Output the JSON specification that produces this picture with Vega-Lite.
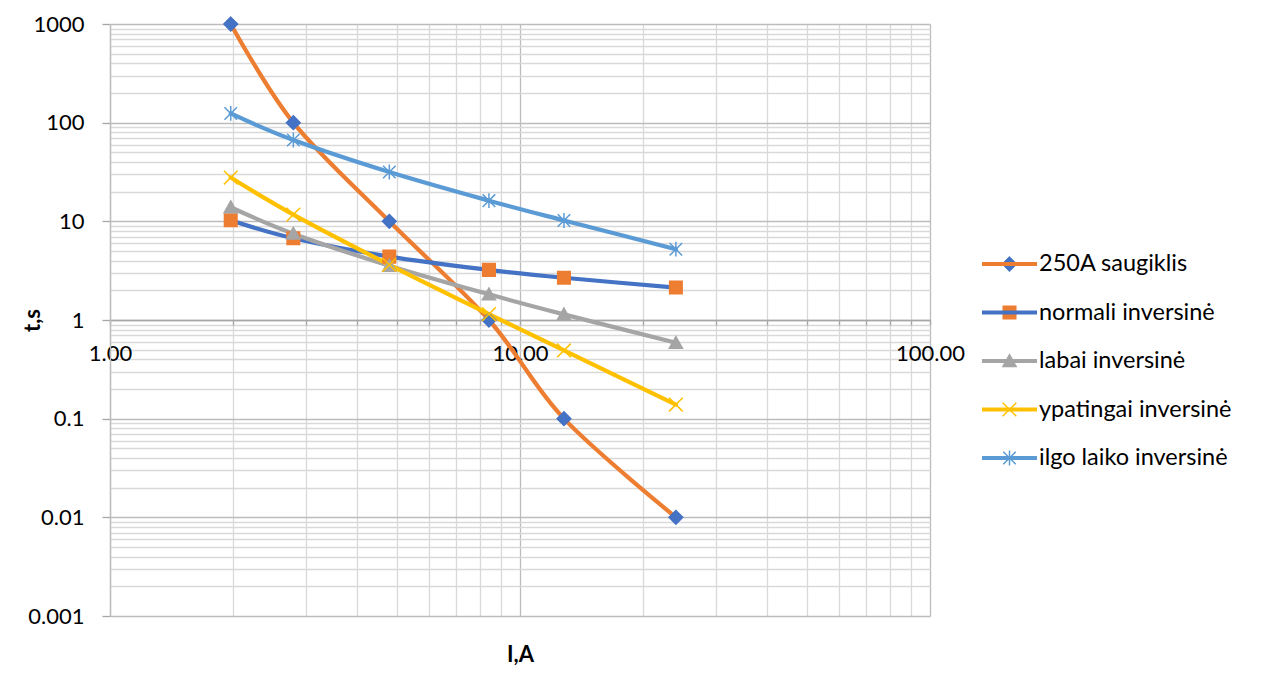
{
  "$schema": "https://vega.github.io/schema/vega-lite/v6.json",
  "width": 820,
  "height": 592,
  "autosize": {"type": "none"},
  "padding": {"left": 110, "top": 24, "right": 331, "bottom": 72},
  "background": "white",
  "config": {"font": "Lato", "view": {"stroke": null}},
  "data": {
    "values": [
      {"series": "250A saugiklis", "I": 1.97, "t": 1000},
      {"series": "250A saugiklis", "I": 2.8, "t": 100},
      {"series": "250A saugiklis", "I": 4.8, "t": 10},
      {"series": "250A saugiklis", "I": 8.4, "t": 1},
      {"series": "250A saugiklis", "I": 12.8, "t": 0.1},
      {"series": "250A saugiklis", "I": 24, "t": 0.01},
      {"series": "normali inversinė", "I": 1.97, "t": 10.25},
      {"series": "normali inversinė", "I": 2.8, "t": 6.73},
      {"series": "normali inversinė", "I": 4.8, "t": 4.39},
      {"series": "normali inversinė", "I": 8.4, "t": 3.22},
      {"series": "normali inversinė", "I": 12.8, "t": 2.68},
      {"series": "normali inversinė", "I": 24, "t": 2.13},
      {"series": "labai inversinė", "I": 1.97, "t": 13.9},
      {"series": "labai inversinė", "I": 2.8, "t": 7.5},
      {"series": "labai inversinė", "I": 4.8, "t": 3.55},
      {"series": "labai inversinė", "I": 8.4, "t": 1.82},
      {"series": "labai inversinė", "I": 12.8, "t": 1.14},
      {"series": "labai inversinė", "I": 24, "t": 0.587},
      {"series": "ypatingai inversinė", "I": 1.97, "t": 27.8},
      {"series": "ypatingai inversinė", "I": 2.8, "t": 11.7},
      {"series": "ypatingai inversinė", "I": 4.8, "t": 3.63},
      {"series": "ypatingai inversinė", "I": 8.4, "t": 1.15},
      {"series": "ypatingai inversinė", "I": 12.8, "t": 0.491},
      {"series": "ypatingai inversinė", "I": 24, "t": 0.139},
      {"series": "ilgo laiko inversinė", "I": 1.97, "t": 124},
      {"series": "ilgo laiko inversinė", "I": 2.8, "t": 66.7},
      {"series": "ilgo laiko inversinė", "I": 4.8, "t": 31.6},
      {"series": "ilgo laiko inversinė", "I": 8.4, "t": 16.2},
      {"series": "ilgo laiko inversinė", "I": 12.8, "t": 10.2},
      {"series": "ilgo laiko inversinė", "I": 24, "t": 5.22}
    ]
  },
  "encoding": {
    "x": {
      "field": "I",
      "type": "quantitative",
      "scale": {"type": "log", "domain": [1, 100], "nice": false},
      "axis": {
        "orient": "bottom",
        "offset": -296,
        "values": [1, 2, 3, 4, 5, 6, 7, 8, 9, 10, 20, 30, 40, 50, 60, 70, 80, 90, 100],
        "format": ".2f",
        "labelExpr": "indexof([1, 10, 100], datum.value) >= 0 ? datum.label : ''",
        "labelFontSize": 22,
        "labelColor": "#000000",
        "labelPadding": 18,
        "labelFlush": false,
        "labelOverlap": false,
        "labelBound": false,
        "tickSize": 5,
        "tickWidth": 1.3,
        "tickColor": "#A6A6A6",
        "domainColor": "#A6A6A6",
        "domainWidth": 1.5,
        "grid": true,
        "gridWidth": 1.3,
        "gridColor": {"condition": {"test": "indexof([1, 10, 100], datum.value) >= 0", "value": "#BCBCBC"}, "value": "#D9D9D9"},
        "title": "I,A",
        "titleFontSize": 22,
        "titleFontWeight": "bold",
        "titleColor": "#000000",
        "titleX": 410,
        "titleY": 334,
        "titleAlign": "center",
        "titleBaseline": "middle",
        "zindex": 0
      }
    },
    "y": {
      "field": "t",
      "type": "quantitative",
      "scale": {"type": "log", "domain": [0.001, 1000], "nice": false},
      "axis": {
        "orient": "left",
        "values": [0.001, 0.002, 0.003, 0.004, 0.005, 0.006, 0.007, 0.008, 0.009,
                   0.01, 0.02, 0.03, 0.04, 0.05, 0.06, 0.07, 0.08, 0.09,
                   0.1, 0.2, 0.3, 0.4, 0.5, 0.6, 0.7, 0.8, 0.9,
                   1, 2, 3, 4, 5, 6, 7, 8, 9,
                   10, 20, 30, 40, 50, 60, 70, 80, 90,
                   100, 200, 300, 400, 500, 600, 700, 800, 900, 1000],
        "format": "~g",
        "labelExpr": "indexof([0.001, 0.01, 0.1, 1, 10, 100, 1000], datum.value) >= 0 ? datum.label : ''",
        "labelFontSize": 22,
        "labelColor": "#000000",
        "labelPadding": 18,
        "labelFlush": false,
        "labelOverlap": false,
        "labelBound": false,
        "tickSize": 8,
        "tickWidth": 1.3,
        "tickColor": {"condition": {"test": "indexof([0.001, 0.01, 0.1, 1, 10, 100, 1000], datum.value) >= 0", "value": "#A6A6A6"}, "value": "transparent"},
        "domainColor": "#BCBCBC",
        "domainWidth": 1.3,
        "grid": true,
        "gridWidth": 1.3,
        "gridColor": {"condition": {"test": "indexof([0.001, 0.01, 0.1, 1, 10, 100, 1000], datum.value) >= 0", "value": "#BCBCBC"}, "value": "#D9D9D9"},
        "title": "t,s",
        "titleFontSize": 22,
        "titleFontWeight": "bold",
        "titleColor": "#000000",
        "titleAngle": -90,
        "titleX": -78,
        "titleY": 296,
        "titleAlign": "center",
        "titleBaseline": "middle",
        "zindex": 0
      }
    }
  },
  "layer": [
    {
      "mark": {"type": "line", "interpolate": "cardinal", "strokeWidth": 4.2, "strokeCap": "round", "strokeJoin": "round"},
      "encoding": {
        "color": {
          "field": "series",
          "type": "nominal",
          "scale": {
            "domain": ["250A saugiklis", "normali inversinė", "labai inversinė", "ypatingai inversinė", "ilgo laiko inversinė"],
            "range": ["#ED7D31", "#4472C4", "#A5A5A5", "#FFC000", "#5B9BD5"]
          },
          "legend": {
            "orient": "none", "legendX": 870, "legendY": 210.5, "title": null, "padding": 0,
            "symbolType": "stroke", "symbolSize": 3025, "symbolStrokeWidth": 4,
            "labelFontSize": 23.5, "labelFont": "Lato", "labelColor": "#000000", "labelOffset": 0,
            "labelLimit": 400, "rowPadding": 7.5
          }
        }
      }
    },
    {
      "mark": {"type": "point", "filled": true, "size": 3249, "strokeWidth": 1.5, "opacity": 1},
      "encoding": {
        "fill": {
          "field": "series",
          "type": "nominal",
          "scale": {
            "domain": ["250A saugiklis", "normali inversinė", "labai inversinė", "ypatingai inversinė", "ilgo laiko inversinė"],
            "range": ["#4472C4", "#ED7D31", "#A5A5A5", "#FFC000", "#5B9BD5"]
          },
          "legend": {
            "orient": "none", "legendX": 870, "legendY": 210.5, "title": null, "padding": 0,
            "symbolSize": 3249, "symbolStrokeWidth": 1.5,
            "labelFontSize": 23.5, "labelFont": "Lato", "labelColor": "transparent", "labelOffset": 0,
            "labelLimit": 400, "rowPadding": 7.5
          }
        },
        "stroke": {
          "field": "series",
          "type": "nominal",
          "scale": {
            "domain": ["250A saugiklis", "normali inversinė", "labai inversinė", "ypatingai inversinė", "ilgo laiko inversinė"],
            "range": ["#4472C4", "#ED7D31", "#A5A5A5", "#FFC000", "#5B9BD5"]
          },
          "legend": {
            "orient": "none", "legendX": 870, "legendY": 210.5, "title": null, "padding": 0,
            "symbolSize": 3249, "symbolStrokeWidth": 1.5,
            "labelFontSize": 23.5, "labelFont": "Lato", "labelColor": "transparent", "labelOffset": 0,
            "labelLimit": 400, "rowPadding": 7.5
          }
        },
        "shape": {
          "field": "series",
          "type": "nominal",
          "scale": {
            "domain": ["250A saugiklis", "normali inversinė", "labai inversinė", "ypatingai inversinė", "ilgo laiko inversinė"],
            "range": [
              "M0,-0.24L0.24,0L0,0.24L-0.24,0Z",
              "M-0.22,-0.22H0.22V0.22H-0.22Z",
              "M0,-0.22L0.23,0.19L-0.23,0.19Z",
              "M-0.24,-0.24L0.24,0.24M-0.24,0.24L0.24,-0.24",
              "M-0.22,-0.22L0.22,0.22M-0.22,0.22L0.22,-0.22M0,-0.26L0,0.26"
            ]
          },
          "legend": {
            "orient": "none", "legendX": 870, "legendY": 210.5, "title": null, "padding": 0,
            "symbolSize": 3249, "symbolStrokeWidth": 1.5,
            "labelFontSize": 23.5, "labelFont": "Lato", "labelColor": "transparent", "labelOffset": 0,
            "labelLimit": 400, "rowPadding": 7.5
          }
        }
      }
    }
  ],
  "resolve": {"legend": {"color": "independent"}}
}
